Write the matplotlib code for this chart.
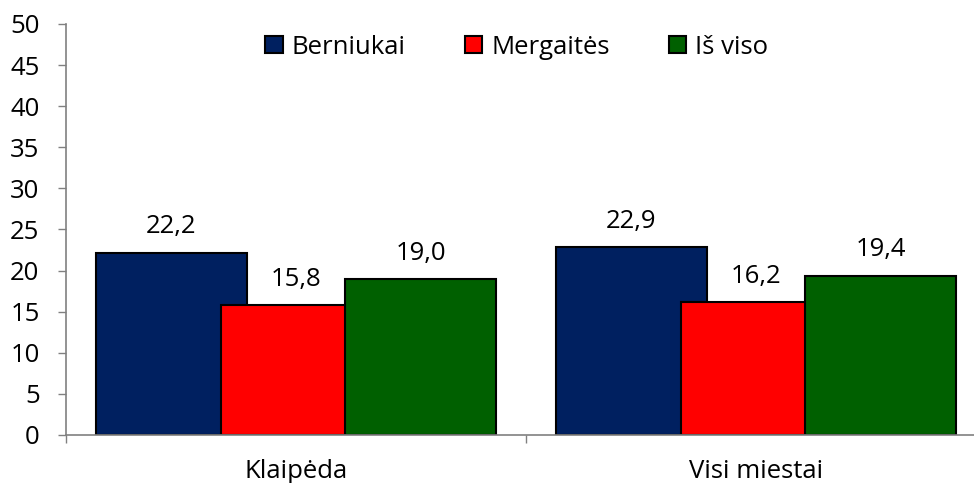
import numpy as np
import matplotlib
matplotlib.use("Agg")
import matplotlib.pyplot as plt
from matplotlib.patches import Patch

plt.rcParams['font.family'] = ['Open Sans', 'DejaVu Sans']

categories = ['Klaipėda', 'Visi miestai']
series_names = ['Berniukai', 'Mergaitės', 'Iš viso']
berniukai = [22.2, 22.9]
mergaites = [15.8, 16.2]
is_viso = [19.0, 19.4]
colors = ['#002060', '#FF0000', '#006000']

W, H = 974, 483
fs = 18.5
fig = plt.figure(figsize=(W / 100, H / 100), dpi=100)
# x axis runs past the right edge like in the original
ax = fig.add_axes([66 / W, (H - 435) / H, 920 / W, 411 / H])

x = np.arange(len(categories))
step = 0.2707
width = 0.328
values = [berniukai, mergaites, is_viso]
for i, (vals, col) in enumerate(zip(values, colors)):
    pos = x + (i - 1) * step
    ax.bar(pos, vals, width=width, color=col, edgecolor='black', linewidth=1.5,
           zorder=2 + i)
    for px, v in zip(pos, vals):
        ax.annotate(f'{v:.1f}'.replace('.', ','), (px, v), xytext=(0, 9.5),
                    textcoords='offset points', ha='center', va='bottom',
                    fontsize=fs)

ax.set_xlim(-0.5, 1.5)
ax.set_ylim(0, 50)
ax.set_yticks(np.arange(0, 51, 5))
ax.tick_params(axis='y', direction='out', length=6, width=1, color='#808080',
               labelsize=fs, pad=13)
ax.set_xticks(x)
ax.set_xticklabels(categories)
ax.tick_params(axis='x', which='major', length=0, labelsize=fs, pad=17)
ax.set_xticks([-0.5, 0.5, 1.5], minor=True)
ax.tick_params(axis='x', which='minor', direction='out', length=6, width=1,
               color='#808080')

for side in ['top', 'right']:
    ax.spines[side].set_visible(False)
for side in ['left', 'bottom']:
    ax.spines[side].set_color('#808080')
    ax.spines[side].set_linewidth(1.2)
ax.spines['bottom'].set_zorder(10)

handles = [Patch(facecolor=c, edgecolor='black', linewidth=1.5) for c in colors]
fig.legend(handles, series_names, loc='center', bbox_to_anchor=(517 / W, (H - 47) / H),
           ncol=3, frameon=False, fontsize=fs, handlelength=0.68, handleheight=0.68,
           handletextpad=0.35, columnspacing=2.3)

fig.savefig('out.png', dpi=100)
